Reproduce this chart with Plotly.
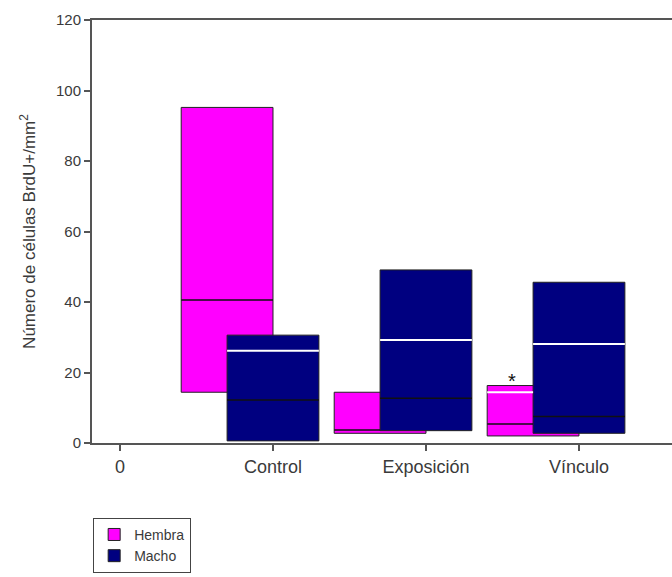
import plotly.graph_objects as go

# Group positions and tick labels
tick_pos = [0, 1, 2, 3]
tick_labels = ["0", "Control", "Exposición", "Vínculo"]
groups = [1, 2, 3]

# Hembra: box bottom/top, median and mean per group
hembra_low = [14.4, 2.75, 2.0]
hembra_high = [95.2, 14.4, 16.3]
hembra_median = [40.6, 3.7, 5.4]
hembra_mean = [None, None, 14.4]

# Macho: box bottom/top, median and mean per group
macho_low = [0.6, 3.5, 2.75]
macho_high = [30.6, 49.1, 45.6]
macho_median = [12.2, 12.7, 7.5]
macho_mean = [26.2, 29.2, 28.1]

FONT = "Liberation Sans, Arial, sans-serif"
TXT = "#3a3a3a"
W = 0.6          # box width
H_OFF = -0.6     # Hembra box starts here relative to the group
M_OFF = -0.3     # Macho box starts here (centred on the group)


def hembra_seg(vals):
    """Hembra lines, stopped where the Macho box drawn in front covers them."""
    px, py = [], []
    for i, (x, v) in enumerate(zip(groups, vals)):
        if v is None:
            continue
        covered = macho_low[i] <= v <= macho_high[i]
        end = M_OFF if covered else H_OFF + W
        px += [x + H_OFF, x + end, None]
        py += [v, v, None]
    return px, py


def macho_seg(vals):
    px, py = [], []
    for x, v in zip(groups, vals):
        px += [x + M_OFF, x + M_OFF + W, None]
        py += [v, v, None]
    return px, py


fig = go.Figure()

fig.add_trace(go.Bar(
    x=groups, y=[h - l for h, l in zip(hembra_high, hembra_low)], base=hembra_low,
    width=W, offset=H_OFF, name="Hembra",
    marker=dict(color="#ff00ff", line=dict(color="#222222", width=1)),
    hoverinfo="skip",
))
fig.add_trace(go.Bar(
    x=groups, y=[h - l for h, l in zip(macho_high, macho_low)], base=macho_low,
    width=W, offset=M_OFF, name="Macho",
    marker=dict(color="#000080", line=dict(color="#222222", width=1)),
    hoverinfo="skip",
))

for vals, col, lw in [(hembra_median, "#111111", 1.5), (hembra_mean, "#ffffff", 2)]:
    lx, ly = hembra_seg(vals)
    fig.add_trace(go.Scatter(x=lx, y=ly, mode="lines", showlegend=False,
                             line=dict(color=col, width=lw), hoverinfo="skip"))
for vals, col, lw in [(macho_median, "#111111", 1.5), (macho_mean, "#ffffff", 2)]:
    lx, ly = macho_seg(vals)
    fig.add_trace(go.Scatter(x=lx, y=ly, mode="lines", showlegend=False,
                             line=dict(color=col, width=lw), hoverinfo="skip"))

# significance mark over the Hembra box in Vínculo
fig.add_annotation(x=groups[2] - 0.44, y=hembra_high[2], text="*",
                   showarrow=False, yanchor="bottom", yshift=-8,
                   font=dict(family=FONT, size=20, color="#111111"))

fig.update_layout(
    width=672, height=577,
    margin=dict(l=92, r=0, t=20, b=134),
    paper_bgcolor="white", plot_bgcolor="white",
    barmode="overlay",
    font=dict(family=FONT, color=TXT),
    showlegend=True,
    legend=dict(
        x=0.002, y=-0.177, xanchor="left", yanchor="top",
        bordercolor="#444444", borderwidth=1, bgcolor="white",
        font=dict(family=FONT, size=14, color=TXT),
        tracegroupgap=2, entrywidth=95, entrywidthmode="pixels",
    ),
    xaxis=dict(
        range=[-0.183, 3.608], tickvals=tick_pos, ticktext=tick_labels,
        showgrid=False, zeroline=False, showline=True, linecolor="#555555",
        linewidth=2, mirror=True, ticks="outside", ticklen=6, tickwidth=1.5,
        tickcolor="#555555", tickfont=dict(family=FONT, size=18, color=TXT),
    ),
    yaxis=dict(
        range=[0, 120], tickvals=[0, 20, 40, 60, 80, 100, 120],
        showgrid=False, zeroline=False, showline=True, linecolor="#555555",
        linewidth=2, ticks="outside", ticklen=6, tickwidth=1.5,
        tickcolor="#555555", tickfont=dict(family=FONT, size=15, color=TXT),
        title=dict(text="Número de células BrdU+/mm<sup>2</sup>", standoff=16,
                   font=dict(family=FONT, size=17, color=TXT)),
    ),
)

fig.write_html("out.html")
